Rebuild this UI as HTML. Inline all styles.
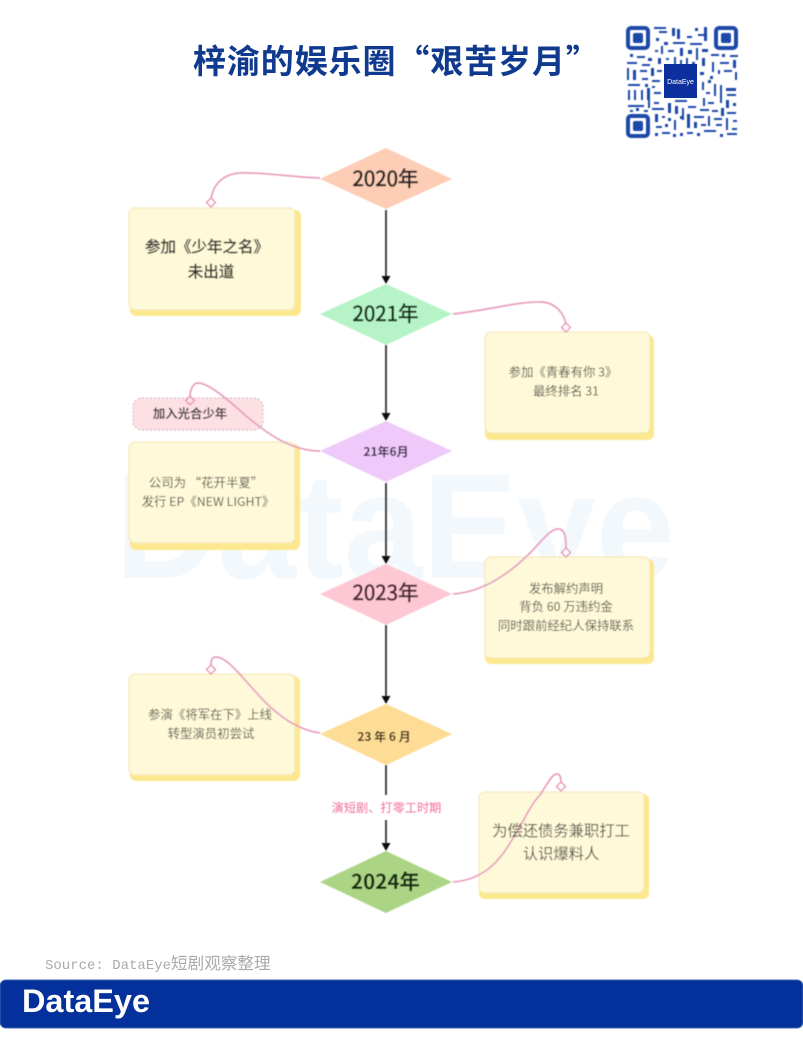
<!DOCTYPE html>
<html lang="zh-CN"><head><meta charset="utf-8">
<style>
html,body{margin:0;padding:0;background:#fff;width:803px;height:1048px;overflow:hidden}
svg{display:block}
text{font-family:"Noto Sans CJK SC","Liberation Sans",sans-serif}
</style></head><body>
<svg width="803" height="1048" viewBox="0 0 803 1048" xmlns="http://www.w3.org/2000/svg">
<defs><filter id="b" x="-2%" y="-2%" width="104%" height="104%"><feGaussianBlur stdDeviation="0.4"/></filter></defs>
<rect width="803" height="1048" fill="#fff"/>
<text x="115" y="578" font-size="150" font-weight="700" fill="#f3f8fc" textLength="560" lengthAdjust="spacingAndGlyphs" style="font-family:'Liberation Sans',sans-serif">DataEye</text>

<text x="193" y="73" font-size="33" letter-spacing="0.900" font-weight="700" fill="#0f3a8f">梓渝的娱乐圈“艰苦岁月”</text>

<!-- QR -->
<g fill="#1f4aa8" filter="url(#b)">
<g fill="none" stroke="#1f4aa8" stroke-width="4"><rect x="628" y="28" width="20" height="20" rx="3"/><rect x="716" y="28" width="20" height="20" rx="3"/><rect x="628" y="116" width="20" height="20" rx="3"/></g>
<rect x="633" y="33" width="10" height="10" rx="2"/><rect x="721" y="33" width="10" height="10" rx="2"/><rect x="633" y="121" width="10" height="10" rx="2"/>
<path d="M654 27h12v2h-12zM659 31h8v2h-8zM672 28h3v8h-3zM677 29h3v10h-3zM687 36h5v2h-5zM695 28h3v3h-3zM704 27h3v14h-3zM698 34h8v2h-8zM656 38h3v3h-3zM664 42h4v3h-4zM673 42h12v2h-12zM690 43h12v2h-12zM655 50h3v2h-3zM661 46h2v8h-2zM668 50h6v2h-6zM680 48h3v8h-3zM688 50h4v4h-4zM696 48h2v12h-2zM702 49h6v3h-6zM711 54h8v2h-8zM722 54h3v3h-3zM730 55h8v2h-8zM630 54h3v3h-3zM637 56h8v2h-8zM648 58h4v3h-4zM658 58h3v6h-3zM666 58h3v2h-3zM674 57h2v12h-2zM680 60h2v8h-2zM686 58h2v10h-2zM692 62h3v10h-3zM702 58h3v8h-3zM712 62h2v10h-2zM720 62h9v2h-9zM733 60h3v8h-3zM627 62h10v2h-10zM642 64h8v2h-8zM627 68h2v12h-2zM633 70h3v10h-3zM640 70h7v2h-7zM651 68h3v8h-3zM657 70h5v2h-5zM700 72h4v3h-4zM710 76h3v3h-3zM718 70h2v4h-2zM724 70h8v2h-8zM735 72h2v8h-2zM642 78h6v2h-6zM652 80h8v2h-8zM628 84h12v2h-12zM645 84h3v3h-3zM652 86h3v2h-3zM628 90h2v10h-2zM634 90h2v10h-2zM641 90h2v10h-2zM647 88h3v12h-3zM654 92h7v2h-7zM702 82h2v8h-2zM708 80h3v3h-3zM714 84h2v12h-2zM720 85h2v18h-2zM726 88h10v3h-10zM727 94h9v2h-9zM706 92h4v2h-4zM703 98h2v8h-2zM708 102h6v2h-6zM726 100h3v8h-3zM733 103h3v3h-3zM628 105h16v2h-16zM630 110h3v2h-3zM636 108h3v3h-3zM648 100h2v8h-2zM654 102h5v2h-5zM644 110h4v2h-4zM652 108h12v2h-12zM668 103h3v10h-3zM675 100h12v2h-12zM675 106h3v8h-3zM682 108h2v12h-2zM688 106h8v2h-8zM700 109h9v2h-9zM712 110h6v2h-6zM721 108h3v8h-3zM727 112h9v2h-9zM655 114h3v8h-3zM662 116h3v2h-3zM668 118h3v3h-3zM674 120h2v10h-2zM680 116h3v3h-3zM687 114h3v14h-3zM694 116h10v2h-10zM708 116h2v10h-2zM714 118h8v2h-8zM726 118h2v12h-2zM733 120h4v2h-4zM656 126h6v2h-6zM665 124h3v3h-3zM694 122h3v6h-3zM701 124h5v2h-5zM716 124h6v2h-6zM732 128h5v2h-5zM655 133h3v3h-3zM662 132h8v2h-8zM673 134h3v3h-3zM680 133h3v3h-3zM687 132h6v2h-6zM697 133h3v3h-3zM704 130h12v2h-12zM720 134h3v3h-3zM727 133h10v2h-10z"/>
</g>
<rect x="664" y="64" width="33" height="34" fill="#0b2f9c"/>
<text x="680.5" y="84" text-anchor="middle" font-size="7" fill="#fff" style="font-family:'Liberation Sans',sans-serif">DataEye</text>

<g filter="url(#b)">
<!-- flow lines -->
<g stroke="#333" stroke-width="1.800" fill="none">
<path d="M386 210V276M386 345V413M386 483V556M386 625V696M386 765V795M386 820V844"/>
</g>
<g fill="#111">
<path d="M381.500 276h9l-4.500 8zM381.500 413h9l-4.500 8zM381.500 556h9l-4.500 8zM381.500 696h9l-4.500 8zM381.500 843h9l-4.500 8z"/>
</g>

<!-- note boxes -->
<g stroke="#f5e3b4" stroke-width="1">
<rect x="130" y="210" width="171" height="106" rx="6" fill="#fce88e" stroke="none"/>
<rect x="129" y="208" width="166" height="102" rx="6" fill="#fef9d8"/>
<rect x="485" y="335" width="169" height="105" rx="6" fill="#fce88e" stroke="none"/>
<rect x="485" y="332" width="165" height="101" rx="6" fill="#fef9d8"/>
<rect x="130" y="444" width="170" height="106" rx="6" fill="#fce88e" stroke="none"/>
<rect x="129" y="442" width="166" height="101" rx="6" fill="#fef9d8"/>
<rect x="485" y="559" width="169" height="105" rx="6" fill="#fce88e" stroke="none"/>
<rect x="485" y="557" width="165" height="101" rx="6" fill="#fef9d8"/>
<rect x="130" y="676" width="170" height="105" rx="6" fill="#fce88e" stroke="none"/>
<rect x="129" y="674" width="166" height="101" rx="6" fill="#fef9d8"/>
<rect x="479" y="794" width="170" height="105" rx="6" fill="#fce88e" stroke="none"/>
<rect x="479" y="792" width="165" height="101" rx="6" fill="#fef9d8"/>
</g>
<rect x="133" y="398" width="130" height="32" rx="9" fill="#fde0e4" stroke="#c9b4b8" stroke-width="1" stroke-dasharray="2 2"/>

<!-- diamonds -->
<path d="M386 148L452 179L386 209L320 179Z" fill="#fdcdb5"/>
<path d="M386 284L452 314L386 345L320 314Z" fill="#b6f4c7"/>
<path d="M386 421L452 451L386 482L320 451Z" fill="#eec9fa"/>
<path d="M386 564L452 594L386 625L320 594Z" fill="#fdc8d3"/>
<path d="M386 704L452 734L386 765L320 734Z" fill="#fddc95"/>
<path d="M386 851L452 882L386 913L320 882Z" fill="#abd585"/>

<!-- pink connectors -->
<g fill="none" stroke="#e79fc0" stroke-width="1.700">
<path d="M320 178C290 177 262 172 240 173C222 174 212 186 211 201"/>
<path d="M453 314C490 310 520 301 542 302C556 303 565 314 566 326"/>
<path d="M320 451C290 451 265 432 245 415C225 397 208 383 198 383C192 383 190 392 190 397"/>
<path d="M453 594C480 592 505 578 530 553C542 541 550 529 558 529C566 529 566 540 566 548"/>
<path d="M320 733C298 730 280 717 263 700C245 681 228 657 216 657C211 657 211 662 211 666"/>
<path d="M453 882C480 880 497 865 510 843C522 825 530 805 540 795C548 783 552 774 557 774C561 774 561 780 561 783"/>
</g>
<g fill="#fff" stroke="#e78fb4" stroke-width="1.300">
<path d="M211 198l4.500 4.500-4.500 4.500-4.500-4.500z"/>
<path d="M566 323l4.500 4.500-4.500 4.500-4.500-4.500z"/>
<path d="M190 396l4.500 4.500-4.500 4.500-4.500-4.500z" fill="#fde0e4"/>
<path d="M566 548l4.500 4.500-4.500 4.500-4.500-4.500z"/>
<path d="M211 665l4.500 4.500-4.500 4.500-4.500-4.500z"/>
<path d="M561 782l4.500 4.500-4.500 4.500-4.500-4.500z"/>
</g>

<!-- diamond labels -->
<g text-anchor="middle" fill="#222">
<text x="385.500" y="186" font-size="20.500" stroke="#222" stroke-width="0.600">2020年</text>
<text x="385.500" y="321" font-size="20.500" fill="#123018" stroke="#123018" stroke-width="0.600">2021年</text>
<text x="386" y="456" font-size="12" font-weight="700" fill="#3a2545">21年6月</text>
<text x="385.500" y="600" font-size="20.500" fill="#4a2630" stroke="#4a2630" stroke-width="0.600">2023年</text>
<text x="384" y="741" font-size="12" font-weight="700" fill="#3a2a10">23 年 6 月</text>
<text x="385.500" y="889" font-size="20.500" font-weight="700" fill="#142a0a">2024年</text>
</g>

<!-- note labels -->
<g text-anchor="middle" fill="#5c5950">
<text x="207" y="252" font-size="15.500" fill="#3c3a32" stroke="#3c3a32" stroke-width="0.400">参加《少年之名》</text>
<text x="211" y="277" font-size="15.500" fill="#3c3a32" stroke="#3c3a32" stroke-width="0.400">未出道</text>
<text x="563" y="376.500" font-size="12.400">参加《青春有你 3》</text>
<text x="566" y="395.500" font-size="12.400">最终排名 31</text>
<text x="190" y="418" font-size="12.400" font-weight="700" fill="#4a3f42">加入光合少年</text>
<text x="206" y="487" font-size="12.400">公司为 “花开半夏”</text>
<text x="208" y="506" font-size="12.400">发行 EP《NEW LIGHT》</text>
<text x="566" y="593" font-size="12.400">发布解约声明</text>
<text x="566" y="611" font-size="12.400">背负 60 万违约金</text>
<text x="566" y="630" font-size="12.400">同时跟前经纪人保持联系</text>
<text x="210" y="719" font-size="12.400">参演《将军在下》上线</text>
<text x="211" y="738" font-size="12.400">转型演员初尝试</text>
<text x="561" y="836" font-size="15.300">为偿还债务兼职打工</text>
<text x="561" y="859" font-size="15.300">认识爆料人</text>
<text x="386.500" y="812" font-size="12.200" fill="#ee6f96">演短剧、打零工时期</text>
</g>
</g>

<!-- footer -->
<text x="45" y="969" font-size="14" fill="#aaaaaa" style="font-family:'Liberation Mono','Noto Sans CJK SC',monospace">Source: DataEye<tspan font-size="16.600" style="font-family:'Noto Sans CJK SC',sans-serif">短剧观察整理</tspan></text>
<rect x="0" y="980" width="803" height="48" rx="6" fill="#04309b" stroke="#3a68b8" stroke-width="1"/>
<text x="22" y="1012" font-size="32" font-weight="700" fill="#fff" textLength="128" lengthAdjust="spacingAndGlyphs" style="font-family:'Liberation Sans',sans-serif">DataEye</text>
</svg>
</body></html>
